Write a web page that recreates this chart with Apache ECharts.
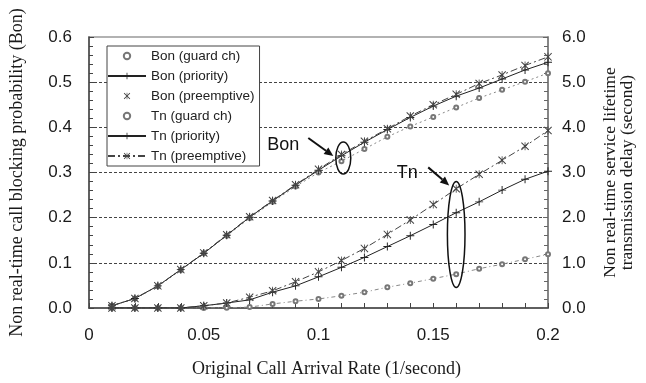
<!DOCTYPE html>
<html><head><meta charset="utf-8">
<script src="https://cdn.jsdelivr.net/npm/echarts@6/dist/echarts.min.js"></script>
<style>html,body{margin:0;padding:0;background:#fff}#c{width:646px;height:383px}</style>
</head><body><div id="c"></div>
<script>
// ---- data ----
const arrivalRates = [0.01,0.02,0.03,0.04,0.05,0.06,0.07,0.08,0.09,0.10,0.11,0.12,0.13,0.14,0.15,0.16,0.17,0.18,0.19,0.20];
const bonGuard     = [0.005,0.021,0.048,0.084,0.121,0.160,0.199,0.235,0.269,0.300,0.325,0.352,0.379,0.402,0.423,0.444,0.465,0.483,0.501,0.520];
const bonPriority  = [0.005,0.021,0.049,0.085,0.121,0.161,0.201,0.237,0.272,0.305,0.337,0.367,0.395,0.422,0.447,0.469,0.487,0.507,0.527,0.544];
const bonPreempt   = [0.005,0.021,0.049,0.085,0.122,0.162,0.202,0.238,0.273,0.307,0.340,0.369,0.397,0.425,0.450,0.473,0.497,0.516,0.537,0.556];
const tnGuard      = [0,0,0,0,0,0.005,0.02,0.09,0.15,0.20,0.27,0.35,0.46,0.55,0.65,0.75,0.87,0.97,1.08,1.19];
const tnPriority   = [0,0,0,0,0.05,0.11,0.18,0.35,0.49,0.69,0.90,1.12,1.36,1.60,1.85,2.11,2.35,2.61,2.85,3.03];
const tnPreempt    = [0,0,0,0,0.05,0.11,0.24,0.38,0.58,0.80,1.05,1.32,1.63,1.95,2.29,2.64,2.96,3.27,3.58,3.93];
const seriesNames  = ['Bon (guard ch)','Bon (priority)','Bon (preemptive)','Tn (guard ch)','Tn (priority)','Tn (preemptive)'];
const xTitle = 'Original Call Arrival Rate (1/second)';
const yLeftTitle = 'Non real-time call blocking probability (Bon)';
const yRightTitle = 'Non real-time service lifetime\ntransmission delay (second)';
// callout anchors (data coordinates)
const bonCallout = [0.1108, 0.332];
const tnCallout  = [0.16, 1.63];

const PLUS  = 'path://M4.4,0H5.6V4.4H10V5.6H5.6V10H4.4V5.6H0V4.4H4.4Z';
const STAR  = 'path://M0,0.9L0.9,0L5,4.1L9.1,0L10,0.9L5.9,5L10,9.1L9.1,10L5,5.9L0.9,10L0,9.1L4.1,5ZM4.5,0H5.5V10H4.5Z';

const pairs = v => arrivalRates.map((x, i) => [x, v[i]]);
const SANS = 'Liberation Sans, Arial, sans-serif';
const SERIF = 'Liberation Serif, Times New Roman, serif';

const chart = echarts.init(document.getElementById('c'), null, {renderer: 'canvas'});

function mk(name, vals, yIdx, symbol, size, color, lineType, lineColor) {
  return {
    name, type: 'line', yAxisIndex: yIdx, data: pairs(vals),
    symbol, symbolSize: size, showAllSymbol: true, animation: false,
    itemStyle: {color},
    lineStyle: {width: 1, type: lineType, color: lineColor},
    emphasis: {disabled: true}
  };
}

const tickFont = {fontFamily: SANS, fontSize: 17, color: '#1a1a1a'};

chart.setOption({
  animation: false,
  backgroundColor: '#fff',
  grid: {left: 89, right: 98, top: 37, bottom: 74, show: true, borderColor: '#999', borderWidth: 1.5, backgroundColor: 'transparent'},
  xAxis: {
    type: 'value', min: 0, max: 0.2, interval: 0.05,
    name: xTitle, nameLocation: 'middle', nameGap: 52,
    nameTextStyle: {fontFamily: SERIF, fontSize: 18, color: '#1a1a1a', padding: [0, 0, 0, 16]},
    axisLine: {lineStyle: {color: '#444', width: 1.5}},
    axisTick: {inside: true, length: 5, lineStyle: {color: '#444'}},
    minorTick: {show: true, splitNumber: 5, length: 5, lineStyle: {color: '#444'}},
    axisLabel: Object.assign({margin: 19}, tickFont),
    splitLine: {show: false}
  },
  yAxis: [{
    type: 'value', min: 0, max: 0.6, interval: 0.1, position: 'left',
    name: yLeftTitle, nameLocation: 'middle', nameGap: 63, nameRotate: 90,
    nameTextStyle: {fontFamily: SERIF, fontSize: 18, color: '#1a1a1a'},
    axisLine: {show: true, lineStyle: {color: '#444', width: 1.5}},
    axisTick: {inside: true, length: 5, lineStyle: {color: '#444'}},
    minorTick: {show: true, splitNumber: 5, length: 4, lineStyle: {color: '#444'}},
    axisLabel: Object.assign({margin: 17, formatter: v => v.toFixed(1)}, tickFont),
    splitLine: {show: true, showMinLine: false, showMaxLine: false, lineStyle: {color: '#444', type: [3, 2], width: 1}}
  }, {
    type: 'value', min: 0, max: 6, interval: 1, position: 'right',
    name: yRightTitle, nameLocation: 'middle', nameGap: 54, nameRotate: 90,
    nameTextStyle: {fontFamily: SERIF, fontSize: 17.5, color: '#1a1a1a', lineHeight: 17},
    axisLine: {show: true, lineStyle: {color: '#777', width: 1.5}},
    axisTick: {inside: true, length: 5, lineStyle: {color: '#666'}},
    minorTick: {show: true, splitNumber: 5, length: 4, lineStyle: {color: '#666'}},
    axisLabel: Object.assign({margin: 14, formatter: v => v.toFixed(1)}, tickFont),
    splitLine: {show: false}
  }],
  legend: {
    orient: 'vertical', left: 107, top: 46, z: 10,
    itemWidth: 38, itemHeight: 8, itemGap: 6, padding: [3, 5, 3, 0],
    borderColor: '#444', borderWidth: 1, backgroundColor: '#fff',
    textStyle: {fontFamily: SANS, fontSize: 13.5, color: '#222'},
    selectedMode: false,
    data: [
      {name: seriesNames[0], lineStyle: {width: 0, opacity: 0}},
      {name: seriesNames[1]},
      {name: seriesNames[2], lineStyle: {width: 0, opacity: 0}},
      {name: seriesNames[3], lineStyle: {width: 0, opacity: 0}},
      {name: seriesNames[4]},
      {name: seriesNames[5]}
    ]
  },
  series: [
    mk(seriesNames[0], bonGuard, 0, 'emptyCircle', 4, '#777', [2, 3], '#888'),
    mk(seriesNames[1], bonPriority, 0, PLUS, 8, '#222', 'solid', '#222'),
    mk(seriesNames[2], bonPreempt, 0, STAR, 8, '#444', [7, 3, 2, 3], '#444'),
    mk(seriesNames[3], tnGuard, 1, 'emptyCircle', 4, '#777', [4, 3, 1, 3], '#888'),
    mk(seriesNames[4], tnPriority, 1, PLUS, 8, '#222', 'solid', '#222'),
    mk(seriesNames[5], tnPreempt, 1, STAR, 8, '#444', [7, 3, 2, 3], '#444')
  ]
});

function arrow(x1, y1, x2, y2) {
  const a = Math.atan2(y2 - y1, x2 - x1), L = 9, W = 4;
  const bx = x2 - L * Math.cos(a), by = y2 - L * Math.sin(a);
  return [
    {type: 'line', z: 20, shape: {x1, y1, x2: bx, y2: by}, style: {stroke: '#111', lineWidth: 2}},
    {type: 'polygon', z: 20, shape: {points: [[x2, y2], [bx + W * Math.sin(a), by - W * Math.cos(a)], [bx - W * Math.sin(a), by + W * Math.cos(a)]]}, style: {fill: '#111'}}
  ];
}

const b = chart.convertToPixel({xAxisIndex: 0, yAxisIndex: 0}, bonCallout);
const t = chart.convertToPixel({xAxisIndex: 0, yAxisIndex: 1}, tnCallout);
chart.setOption({
  graphic: [
    {type: 'ellipse', z: 20, shape: {cx: b[0], cy: b[1], rx: 7.5, ry: 16}, style: {fill: 'none', stroke: '#111', lineWidth: 1.5}},
    {type: 'ellipse', z: 20, shape: {cx: t[0], cy: t[1], rx: 8.8, ry: 53}, style: {fill: 'none', stroke: '#111', lineWidth: 1.5}},
    ...arrow(b[0] - 35, b[1] - 20, b[0] - 10, b[1] - 2),
    ...arrow(t[0] - 28, t[1] - 67, t[0] - 7, t[1] - 49),
    {type: 'text', z: 20, x: b[0] - 60, y: b[1] - 13, style: {text: 'Bon', fontFamily: SANS, fontSize: 18, fill: '#111', align: 'center', verticalAlign: 'middle'}},
    {type: 'text', z: 20, x: t[0] - 49, y: t[1] - 61, style: {text: 'Tn', fontFamily: SANS, fontSize: 18, fill: '#111', align: 'center', verticalAlign: 'middle'}}
  ]
});
</script>
</body></html>
